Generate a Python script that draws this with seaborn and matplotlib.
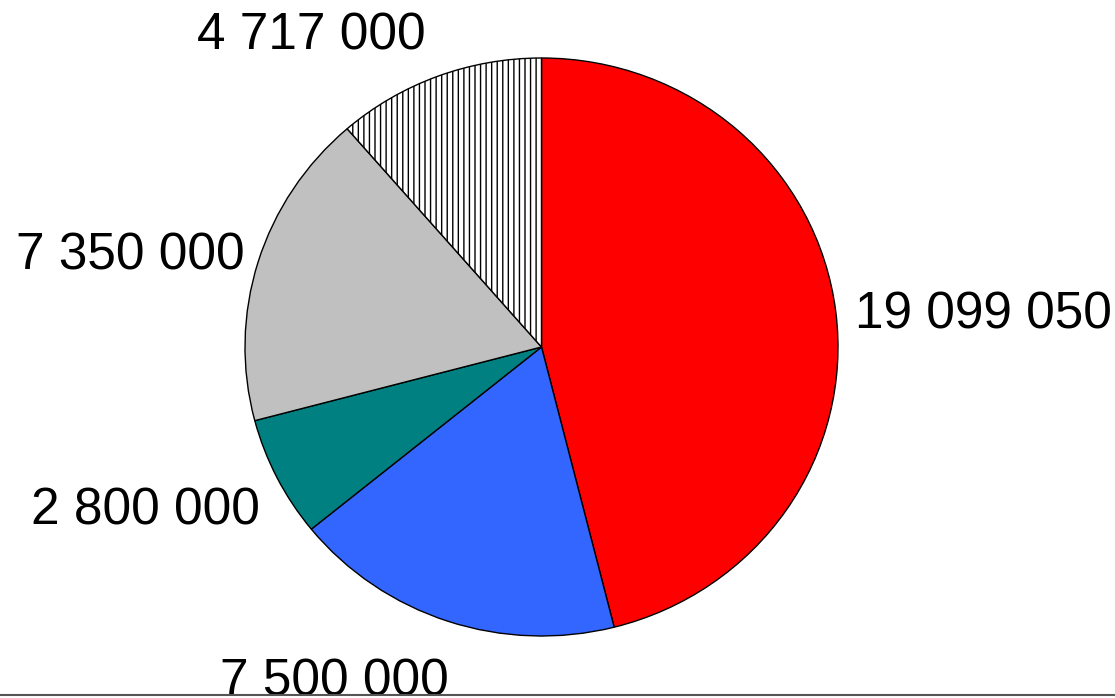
import numpy as np
import matplotlib
matplotlib.use("Agg")
import matplotlib.pyplot as plt
from matplotlib.lines import Line2D
import seaborn as sns

# Slice data, clockwise from 12 o'clock
values = [19099050, 7500000, 2800000, 7350000, 4717000]
labels = ["19 099 050", "7 500 000", "2 800 000", "7 350 000", "4 717 000"]
colors = ["#FF0000", "#3366FF", "#008080", "#C0C0C0", "#FFFFFF"]
hatches = [None, None, None, None, "|||"]
# label offsets (multiples of the radius), horizontal / vertical
label_dx = [1.066, 0.99, 1.065, 1.047, 1.115]
label_dy = [0.883, 1.223, 1.25, 1.074, 1.15]

sns.set_theme(style="white")
plt.rcParams["font.family"] = ["Liberation Sans", "DejaVu Sans"]
plt.rcParams["hatch.linewidth"] = 1.0

W, H = 1115, 698
fig = plt.figure(figsize=(W / 100, H / 100), dpi=100)
ax = fig.add_axes([0, 0, 1, 1])

# the original pie is a touch squashed vertically
r = 296.5
sy = 289 / r
cx, cy = 541.5, (H - 347) / sy
wedges, _ = ax.pie(values, colors=colors, startangle=90, counterclock=False,
                   center=(cx, cy), radius=r,
                   wedgeprops=dict(edgecolor="black", linewidth=1.0))
for w, h in zip(wedges, hatches):
    if h:
        w.set_hatch(h)

# place value labels outside each slice
for w, lab, dx, dy in zip(wedges, labels, label_dx, label_dy):
    ang = np.deg2rad((w.theta1 + w.theta2) / 2)
    x = cx + dx * r * np.cos(ang)
    y = cy + dy * r * np.sin(ang)
    ax.text(x, y, lab, fontsize=37, color="black",
            ha="left" if np.cos(ang) > 0 else "right", va="center")

ax.set_xlim(0, W)
ax.set_ylim(0, H / sy)
ax.set_aspect("auto")
ax.axis("off")

# thin rule along the bottom edge
fig.add_artist(Line2D([0, 1], [3 / H, 3 / H], color="#555555", linewidth=1.5,
                      transform=fig.transFigure))

fig.savefig("out.png", dpi=100)
